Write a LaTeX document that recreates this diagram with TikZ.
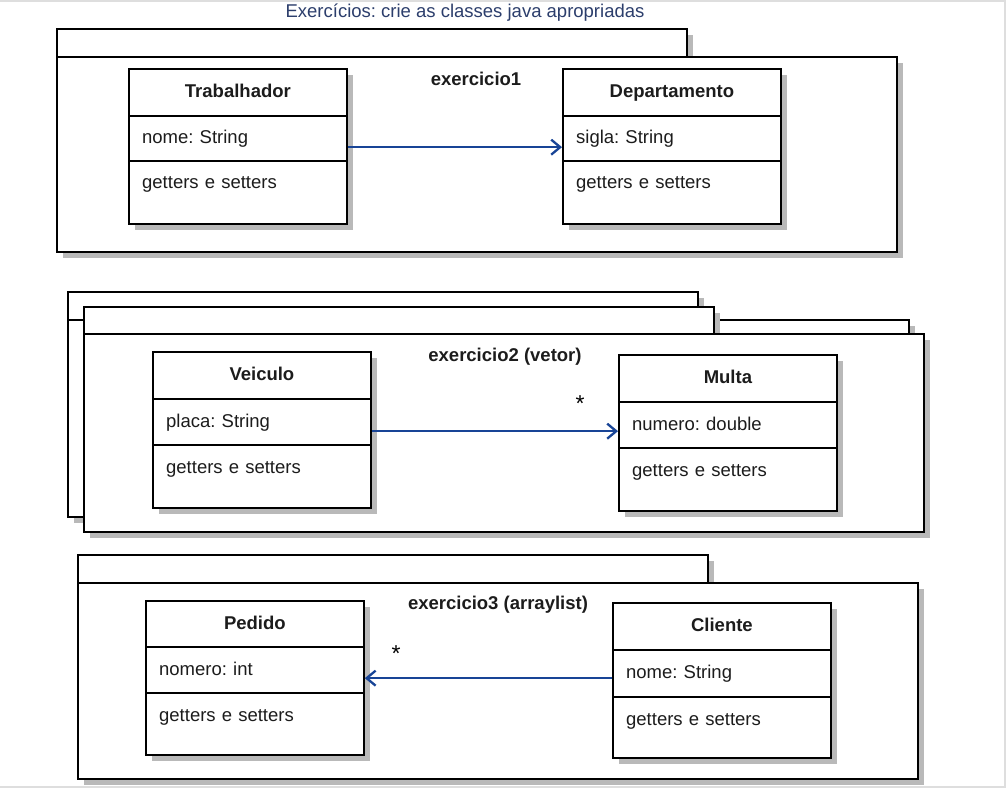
\documentclass[tikz,border=0pt]{standalone}
\usepackage{fontspec}
\setmainfont{Liberation Sans}
\usetikzlibrary{arrows.meta,shadows}
\frenchspacing

\definecolor{shadowgray}{RGB}{185,185,185}
\definecolor{assocblue}{RGB}{24,68,150}
\definecolor{titleblue}{RGB}{44,62,108}
\definecolor{framegray}{RGB}{222,222,222}
\definecolor{inkgray}{RGB}{28,28,28}

\newcommand\diagfont{\fontsize{18.5}{22}\selectfont}

\tikzset{
  boxshadow/.style={drop shadow={shadow xshift=6pt,shadow yshift=-6pt,fill=shadowgray,opacity=1}},
  pkgpart/.style={draw, line width=2.3pt, fill=white, anchor=north west, inner sep=0pt, boxshadow},
  classbox/.style={draw, line width=2.3pt, fill=white, anchor=north west, inner sep=0pt,
    minimum width=217.5pt, boxshadow},
  compart/.style={draw, line width=2.3pt, anchor=north west, minimum width=217.5pt,
    text width=191.5pt, inner xsep=13pt, inner ysep=0pt, align=left,
    text height=14pt, text depth=4pt, text=inkgray, font=\diagfont},
  pkglabel/.style={font=\diagfont\bfseries, text=inkgray},
  mult/.style={anchor=base, text=black, font=\fontsize{23}{26}\selectfont},
  assoc/.style={draw=assocblue, line width=2.3pt, -{Straight Barb[length=9pt,width=15pt]}},
}

% class box: name, left x, top y, first divider y, second divider y, bottom y, class name, attribute
\newcommand\umlclass[8]{%
  \node[classbox, minimum height={(#6-#3)*1pt}] (#1) at (#2,#3) {};
  \node[compart, minimum height={(#4-#3)*1pt}, align=center, font=\diagfont\bfseries] (#1-head) at (#2,#3) {#7};
  \node[compart, minimum height={(#5-#4)*1pt}] (#1-attr) at (#2,#4) {#8};
  \node[compart, draw=none, minimum height={(#5-#4)*1pt}] (#1-ops) at (#2,#5) {getters e setters};
}

\begin{document}
\begin{tikzpicture}[x=1pt, y=-1pt, font=\diagfont]
\useasboundingbox (0,0) rectangle (1008,788);
\fill[white] (0,0) rectangle (1008,788);
\draw[framegray, line width=2pt] (0,1) -- (1005,1) -- (1005,787) -- (0,787);

\node[anchor=base, text=titleblue, font=\diagfont] (title) at (465,17) {Exercícios: crie as classes java apropriadas};

% exercicio1
\node[pkgpart, minimum width=630pt, minimum height=28pt] (p1tab) at (56,28) {};
\node[pkgpart, minimum width=840pt, minimum height=195pt] (p1body) at (56,56) {};
\node[pkglabel] (p1label) at (476,79) {exercicio1};
\umlclass{trab}{128}{68}{115}{160}{223}{Trabalhador}{nome: String}
\umlclass{dept}{562}{68}{115}{160}{223}{Departamento}{sigla: String}
\draw[assoc] ([yshift=-8.5pt]trab-attr.east) -- ([yshift=-8.5pt]dept-attr.west);

% exercicio2 (stacked packages)
\node[pkgpart, minimum width=630pt, minimum height=28pt] (p2btab) at (67,291) {};
\node[pkgpart, minimum width=841pt, minimum height=197pt] (p2bbody) at (67,319) {};
\node[pkgpart, minimum width=630pt, minimum height=27pt] (p2tab) at (83,306) {};
\node[pkgpart, minimum width=840pt, minimum height=198pt] (p2body) at (83,333) {};
\node[pkglabel] (p2label) at (505,357) {exercicio2 (vetor)};
\umlclass{veic}{152}{351}{398}{444}{507}{Veiculo}{placa: String}
\umlclass{multa}{618}{354}{401}{447}{510}{Multa}{numero: double}
\node[mult] (m2) at (580,411) {*};
\draw[assoc] ([yshift=-9pt]veic-attr.east) -- ([yshift=-6pt]multa-attr.west);

% exercicio3
\node[pkgpart, minimum width=630pt, minimum height=28pt] (p3tab) at (77,554) {};
\node[pkgpart, minimum width=840pt, minimum height=196pt] (p3body) at (77,582) {};
\node[pkglabel] (p3label) at (498,605) {exercicio3 (arraylist)};
\umlclass{ped}{145}{600}{646}{692}{754}{Pedido}{nomero: int}
\umlclass{cli}{612}{602}{649}{696}{757}{Cliente}{nome: String}
\node[mult] (m3) at (396,661) {*};
\draw[assoc] ([yshift=-4.5pt]cli-attr.west) -- ([yshift=-8pt]ped-attr.east);
\end{tikzpicture}
\end{document}
